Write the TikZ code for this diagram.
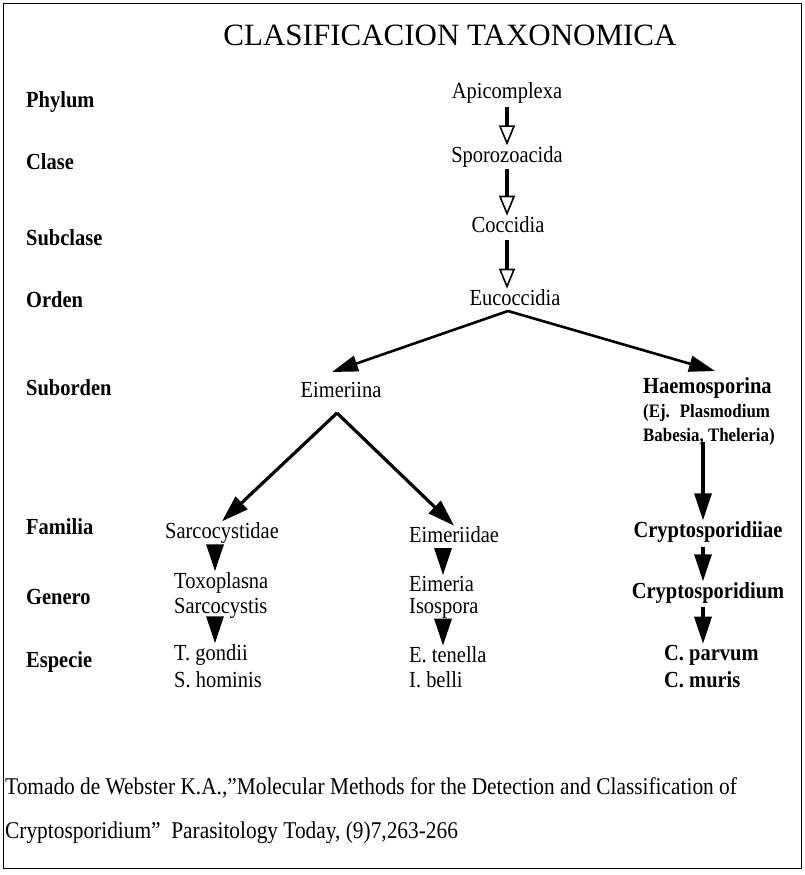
\documentclass[tikz,border=0pt]{standalone}
\usepackage{fontspec}
\setmainfont{Liberation Serif}[FakeStretch=0.89]
\newfontfamily\titlefont{Liberation Serif}
\usetikzlibrary{arrows.meta}
\begin{document}
\begin{tikzpicture}[x=1pt,y=-1pt,
  txt/.style={font=\fontsize{23}{26}\selectfont, inner sep=1pt},
  btxt/.style={font=\fontsize{23}{26}\selectfont\bfseries, inner sep=1pt},
  small/.style={font=\fontsize{19}{22}\selectfont\bfseries, inner sep=1pt, anchor=west},
  rank/.style={btxt, anchor=west},
  lft/.style={txt, anchor=west},
  cite/.style={font=\fontsize{24}{26}\selectfont, inner sep=0pt, anchor=west},
  openarr/.style={line width=3.5pt, -{Triangle[open, width=16pt, length=20pt, line width=1.6pt]}},
  diagarr/.style={line width=2.6pt, -{Triangle[width=16pt, length=26pt]}},
  solarr/.style={line width=3.2pt, -{Triangle[width=17pt, length=27pt]}},
]
\useasboundingbox (0,0) rectangle (804,875);
\draw[line width=1pt] (3,4) rectangle (801,868);

\node[font=\titlefont\fontsize{31}{36}\selectfont, inner sep=0pt] (title) at (450,35) {CLASIFICACION TAXONOMICA};

% ranks
\node[rank] (r1) at (25,102) {Phylum};
\node[rank] (r2) at (25,162) {Clase};
\node[rank] (r3) at (25,238) {Subclase};
\node[rank] (r4) at (25,300) {Orden};
\node[rank] (r5) at (25,388) {Suborden};
\node[rank] (r6) at (25,527) {Familia};
\node[rank] (r7) at (25,597) {Genero};
\node[rank] (r8) at (25,662) {Especie};

% central column
\node[txt] (api) at (507,93) {Apicomplexa};
\node[txt] (spo) at (507,157) {Sporozoacida};
\node[txt] (coc) at (508,225) {Coccidia};
\node[txt] (euc) at (515,298) {Eucoccidia};
\coordinate (c0) at (507,107);
\coordinate (c1) at (507,169);
\coordinate (c2) at (507,240);
\draw[openarr] (c0) -- (c0 |- spo.north);
\draw[openarr] (c1) -- (c1 |- coc.north);
\draw[openarr] (c2) -- (c2 |- euc.north);

% suborders
\node[txt] (eim) at (341,390) {Eimeriina};
\node[btxt, anchor=west] (hae) at (642,388) {Haemosporina};
\node[small] (ej) at (642,413) {(Ej.~ Plasmodium};
\node[small] (bab) at (642,437) {Babesia, Theleria)};
\coordinate (apex) at (508,311);
\coordinate (tipl) at (332,372);
\coordinate (tipr) at (715,371);
\draw[diagarr] (apex) -- (tipl);
\draw[diagarr] (apex) -- (tipr);

% families
\node[txt] (sarf) at (222,533) {Sarcocystidae};
\node[txt, anchor=west] (eimf) at (408,535) {Eimeriidae};
\node[btxt] (cryf) at (708,532) {Cryptosporidiiae};
\coordinate (eapex) at (337,413);
\coordinate (hstart) at (703,442);
\draw[solarr] (eapex) -- (sarf.north);
\draw[solarr] (eapex) -- (eimf.north);
\draw[solarr] (hstart) -- (hstart |- cryf.north);

% genera
\node[lft] (tox) at (173,583) {Toxoplasna};
\node[lft] (sarg) at (173,608) {Sarcocystis};
\node[lft] (eimg) at (408,584) {Eimeria};
\node[lft] (iso) at (408,608) {Isospora};
\node[btxt] (cryg) at (708,593) {Cryptosporidium};
\coordinate (g1) at (215,547);
\coordinate (g2) at (443,549);
\coordinate (g3) at (703,547);
\draw[solarr] (g1) -- (g1 |- tox.north);
\draw[solarr] (g2) -- (g2 |- eimg.north);
\draw[solarr] (g3) -- (g3 |- cryg.north);

% species
\node[lft] (tg) at (173,655) {T. gondii};
\node[lft] (sh) at (173,680) {S. hominis};
\node[lft] (et) at (408,655) {E. tenella};
\node[lft] (ib) at (408,680) {I. belli};
\node[btxt, anchor=west] (cp) at (663,655) {C. parvum};
\node[btxt, anchor=west] (cm) at (663,680) {C. muris};
\coordinate (s1) at (215,620);
\coordinate (s2) at (443,620);
\coordinate (s3) at (703,607);
\draw[solarr] (s1) -- (s1 |- tg.north);
\draw[solarr] (s2) -- (s2 |- et.north);
\draw[solarr] (s3) -- (s3 |- cp.north);

% citation
\node[cite] (c1) at (5,788) {Tomado de Webster K.A.,"Molecular Methods for the Detection and Classification of};
\node[cite] (c2) at (5,833) {Cryptosporidium"\ \ Parasitology Today, (9)7,263-266};
\end{tikzpicture}
\end{document}
